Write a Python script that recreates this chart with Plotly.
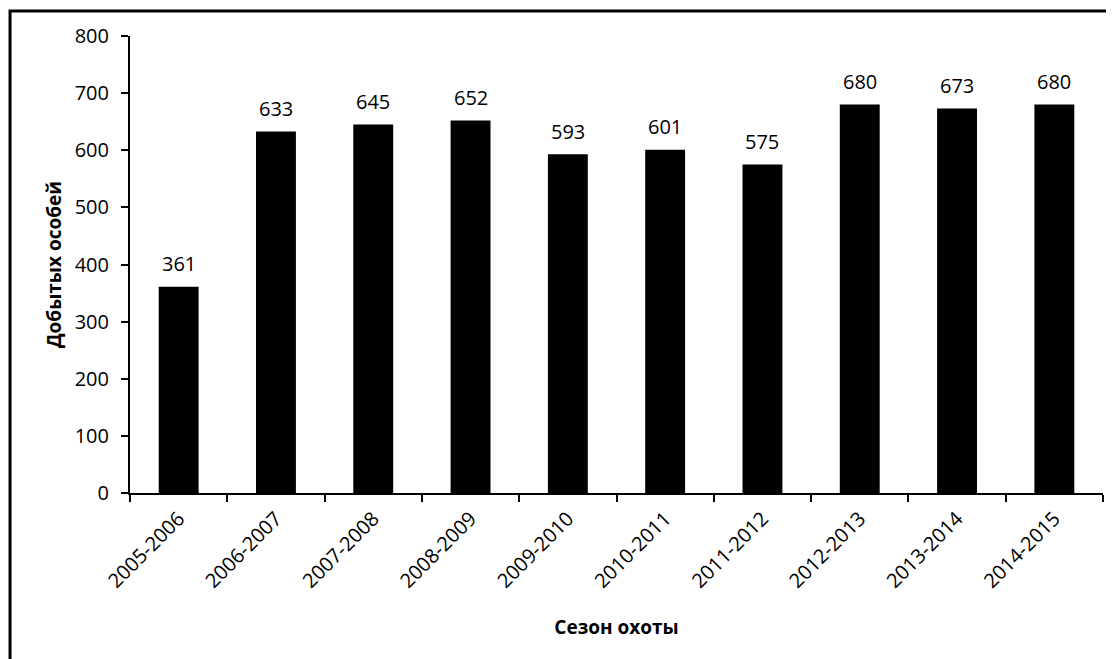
import plotly.graph_objects as go

seasons = ["2005-2006", "2006-2007", "2007-2008", "2008-2009", "2009-2010",
           "2010-2011", "2011-2012", "2012-2013", "2013-2014", "2014-2015"]
catch = [361, 633, 645, 652, 593, 601, 575, 680, 673, 680]
y_ticks = [0, 100, 200, 300, 400, 500, 600, 700, 800]

FONT = "Open Sans"

fig = go.Figure()
fig.add_trace(go.Bar(x=seasons, y=catch, marker=dict(color="black", line=dict(width=0)),
                     width=0.41))

for s, v in zip(seasons, catch):
    fig.add_annotation(x=s, y=v, text=str(v), showarrow=False, yshift=23,
                       font=dict(family=FONT, size=20, color="black"))

# page body has an 8px default margin, compensate for it
fig.update_layout(
    width=1106, height=651,
    margin=dict(l=122, r=11, t=28, b=166),
    plot_bgcolor="white", paper_bgcolor="white",
    showlegend=False,
    font=dict(family=FONT, size=18, color="black"),
    xaxis=dict(
        automargin=False,
        showline=True, linecolor="black", linewidth=2,
        ticks="outside", tickson="boundaries", ticklen=7, tickcolor="black", tickwidth=2,
        tickangle=-45, tickfont=dict(family=FONT, size=20, color="black"),
        ticklabelstandoff=4,
        title=dict(text="<b>Сезон охоты</b>", font=dict(family=FONT, size=19), standoff=28),
        showgrid=False,
    ),
    yaxis=dict(
        automargin=False,
        range=[0, 800], tickvals=y_ticks,
        showline=True, linecolor="black", linewidth=2,
        ticks="outside", ticklen=7, tickcolor="black", tickwidth=2,
        tickfont=dict(family=FONT, size=20, color="black"),
        ticklabelstandoff=8,
        title=dict(text="<b>Добытых особей</b>", font=dict(family=FONT, size=19), standoff=8),
        showgrid=False, zeroline=False,
    ),
)

# outer frame
fig.add_shape(type="rect", xref="paper", yref="paper",
              x0=-0.1233, x1=1.03, y0=-0.42, y1=1.0547,
              line=dict(color="black", width=3), fillcolor="rgba(0,0,0,0)", layer="above")

fig.write_html("out.html")
